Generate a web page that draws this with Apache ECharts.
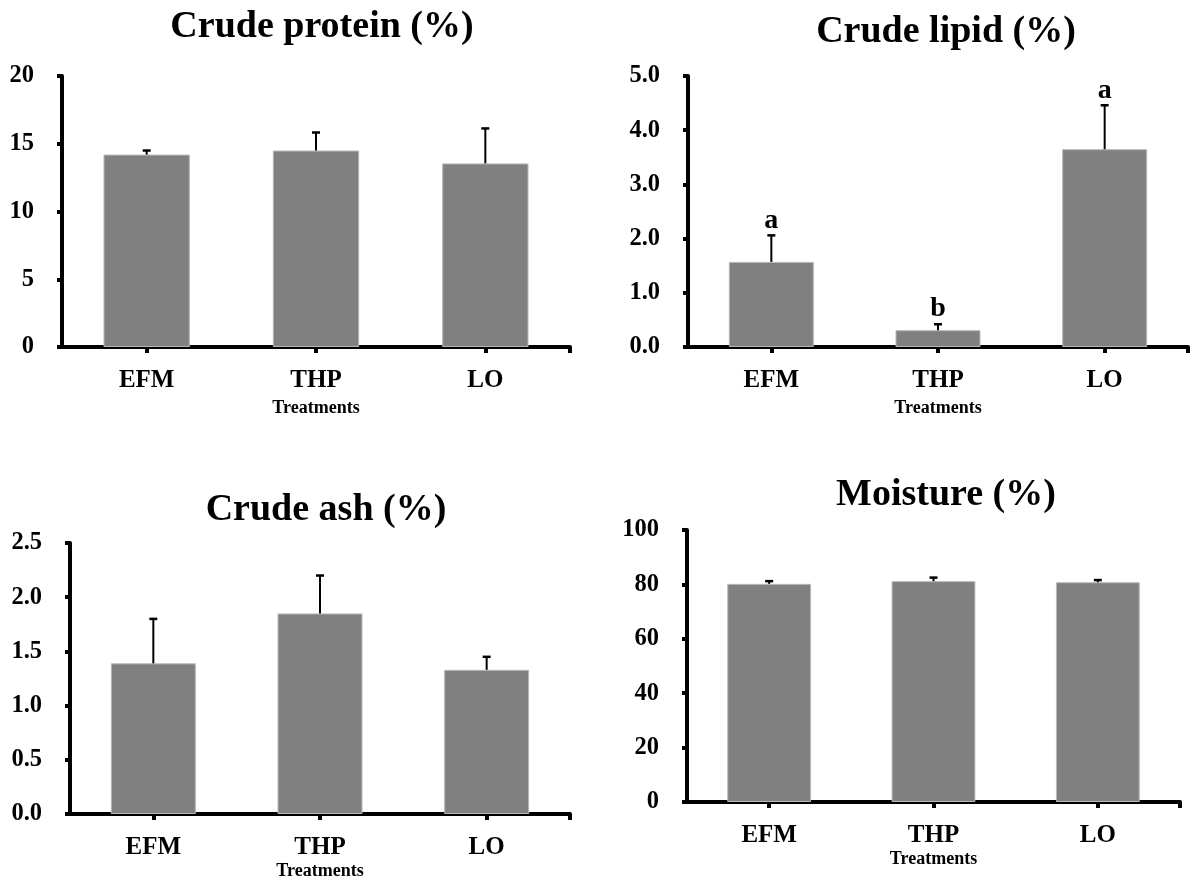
<!DOCTYPE html>
<html>
<head>
<meta charset="utf-8">
<script src="https://cdn.jsdelivr.net/npm/echarts@6/dist/echarts.min.js"></script>
<style>
  html, body { margin: 0; padding: 0; background: #fff; }
  #chart { width: 1196px; height: 881px; }
</style>
</head>
<body>
<div id="chart"></div>
<script>
// Proximate composition by treatment: mean and standard error per group
const categories = ['EFM', 'THP', 'LO'];

const proteinMean = [14.2, 14.5, 13.55];
const proteinSE = [0.3, 1.33, 2.58];
const proteinLetters = ['', '', ''];

const lipidMean = [1.57, 0.31, 3.65];
const lipidSE = [0.49, 0.11, 0.81];
const lipidLetters = ['a', 'b', 'a'];

const ashMean = [1.39, 1.85, 1.33];
const ashSE = [0.41, 0.35, 0.12];
const ashLetters = ['', '', ''];

const moistureMean = [80.2, 81.2, 80.8];
const moistureSE = [1.0, 1.3, 0.8];
const moistureLetters = ['', '', ''];

const titles = ['Crude protein (%)', 'Crude lipid (%)', 'Crude ash (%)', 'Moisture (%)'];
const xAxisName = 'Treatments';

// y-axis scales: [min, max, interval, decimals]
const yScales = [
  [0, 20, 5, 0],
  [0, 5, 1, 1],
  [0, 2.5, 0.5, 1],
  [0, 100, 20, 0]
];

const FONT = '"Liberation Serif", "Times New Roman", serif';

// panel layout
const panels = [
  { grid: { left: 62, top: 76, width: 508, height: 271 }, titleX: 317, titleY: 3, nameGap: 52, mean: proteinMean, se: proteinSE, letters: proteinLetters },
  { grid: { left: 688, top: 76, width: 500, height: 271 }, titleX: 941, titleY: 8, nameGap: 52, mean: lipidMean, se: lipidSE, letters: lipidLetters },
  { grid: { left: 70, top: 543, width: 500, height: 271 }, titleX: 321, titleY: 486, nameGap: 48, mean: ashMean, se: ashSE, letters: ashLetters },
  { grid: { left: 687, top: 530, width: 493, height: 272 }, titleX: 941, titleY: 471, nameGap: 48, mean: moistureMean, se: moistureSE, letters: moistureLetters }
];

const axisLineStyle = { color: '#000', width: 4 };

const option = {
  animation: false,
  backgroundColor: '#fff',
  title: panels.map((p, i) => ({
    text: titles[i],
    left: p.titleX,
    top: p.titleY,
    textAlign: 'center',
    textStyle: { fontFamily: FONT, fontWeight: 'bold', fontSize: 38, color: '#000' }
  })),
  grid: panels.map(p => p.grid),
  xAxis: [],
  yAxis: [],
  series: []
};

panels.forEach((p, i) => {
  // category axis carrying the bars
  option.xAxis.push({
    type: 'category',
    gridIndex: i,
    data: categories,
    position: 'bottom',
    name: xAxisName,
    nameLocation: 'middle',
    nameGap: p.nameGap,
    nameTextStyle: { fontFamily: FONT, fontWeight: 'bold', fontSize: 18, color: '#000' },
    axisLine: { show: true, lineStyle: axisLineStyle },
    axisTick: { show: true, alignWithLabel: true, length: 6, lineStyle: axisLineStyle },
    axisLabel: { fontFamily: FONT, fontWeight: 'bold', fontSize: 25, color: '#000', margin: 21 },
    splitLine: { show: false }
  });
  // helper axis drawing the closing tick at the right end of the x axis
  option.xAxis.push({
    type: 'value',
    gridIndex: i,
    position: 'bottom',
    min: 0,
    max: 3,
    axisLine: { show: false },
    axisLabel: { show: false },
    splitLine: { show: false },
    axisTick: { show: true, customValues: [3], length: 6, lineStyle: axisLineStyle }
  });

  const [ymin, ymax, yint, dec] = yScales[i];
  option.yAxis.push({
    type: 'value',
    gridIndex: i,
    min: ymin,
    max: ymax,
    interval: yint,
    axisLine: { show: true, lineStyle: axisLineStyle },
    axisTick: { show: true, length: 5, lineStyle: axisLineStyle },
    axisLabel: {
      fontFamily: FONT, fontWeight: 'bold', fontSize: 24.5, color: '#000', margin: 28,
      formatter: v => v.toFixed(dec)
    },
    splitLine: { show: false }
  });

  option.series.push({
    type: 'bar',
    xAxisIndex: 2 * i,
    yAxisIndex: i,
    barWidth: '51%',
    data: p.mean,
    itemStyle: { color: '#808080', borderColor: '#b8b8b8', borderWidth: 1 },
    z: 2
  });

  // upper error whiskers with significance letters
  option.series.push({
    type: 'custom',
    xAxisIndex: 2 * i,
    yAxisIndex: i,
    z: 5,
    data: p.mean.map((m, k) => [k, m, p.se[k], p.letters[k]]),
    renderItem: (params, api) => {
      const idx = api.value(0);
      const m = api.value(1);
      const e = api.value(2);
      const letter = p.letters[idx];
      const base = api.coord([idx, m]);
      const top = api.coord([idx, m + e]);
      const style = { stroke: '#000', lineWidth: 2 };
      const children = [
        { type: 'line', shape: { x1: base[0], y1: base[1], x2: top[0], y2: top[1] }, style },
        { type: 'line', shape: { x1: top[0] - 4, y1: top[1], x2: top[0] + 4, y2: top[1] }, style: { stroke: '#000', lineWidth: 2.5 } }
      ];
      if (letter) {
        children.push({
          type: 'text',
          x: top[0],
          y: top[1] - 15,
          style: {
            text: letter,
            fontFamily: FONT, fontWeight: 'bold', fontSize: 28, fill: '#000',
            align: 'center', verticalAlign: 'middle'
          }
        });
      }
      return { type: 'group', children };
    }
  });
});

const chart = echarts.init(document.getElementById('chart'), null, { renderer: 'canvas' });
chart.setOption(option);
</script>
</body>
</html>
